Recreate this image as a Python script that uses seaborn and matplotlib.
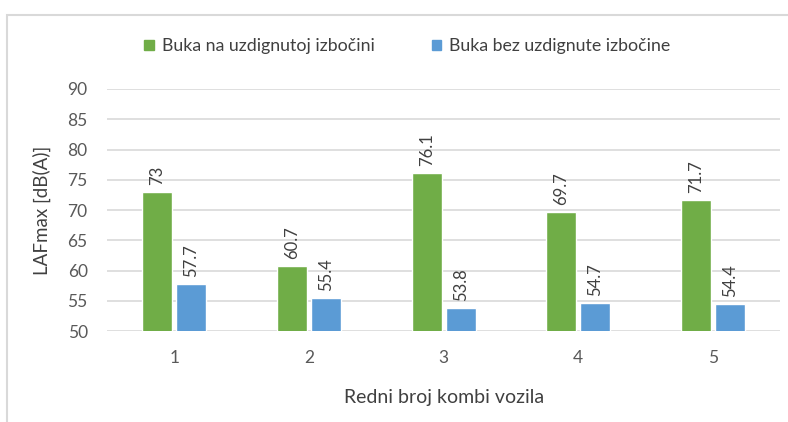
import numpy as np
import pandas as pd
import seaborn as sns
from matplotlib import pyplot as plt
from matplotlib.patches import Rectangle

# podaci
vozila = ['1', '2', '3', '4', '5']
buka_izbocina = [73, 60.7, 76.1, 69.7, 71.7]
buka_bez = [57.7, 55.4, 53.8, 54.7, 54.4]
serije = ['Buka na uzdignutoj izbočini', 'Buka bez uzdignute izbočine']
boje = ['#70AD47', '#5B9BD5']

df = pd.DataFrame({
    'vozilo': vozila * 2,
    'buka': buka_izbocina + buka_bez,
    'serija': [serije[0]] * 5 + [serije[1]] * 5,
})

sns.set_style('white')
plt.rcParams['font.family'] = ['Lato', 'DejaVu Sans']

fig = plt.figure(figsize=(7.88, 4.22), dpi=100)
ax = fig.add_axes([0.136, 0.2156, 0.854, 0.5735])

sns.barplot(data=df, x='vozilo', y='buka', hue='serija', palette=boje,
            saturation=1, width=0.505, gap=0.117, ax=ax, legend=False, zorder=3)

# natpisi vrijednosti
for cont in ax.containers:
    labels = [f'{v:g}' for v in cont.datavalues]
    ax.bar_label(cont, labels=labels, rotation=90, padding=5,
                 fontsize=12, color='#404040')

ax.set_ylim(50, 90)
ax.set_yticks(range(50, 91, 5))
ax.yaxis.grid(True, color='#D9D9D9', linewidth=1.2, zorder=0)
ax.set_axisbelow(True)
sns.despine(ax=ax, left=True, bottom=True, top=True, right=True)
ax.tick_params(axis='both', length=0, labelsize=12.5, labelcolor='#595959')
ax.tick_params(axis='y', pad=14)
ax.tick_params(axis='x', pad=14)
ax.set_xlabel('Redni broj kombi vozila', fontsize=14, color='#404040', labelpad=16)
ax.set_ylabel('LAFmax [dB(A)]', fontsize=13.5, color='#404040', labelpad=12)

# legenda
handles = [Rectangle((0, 0), 1, 1, color=c) for c in boje]
fig.legend(handles, serije, loc='center', bbox_to_anchor=(0.517, 0.89), ncol=2,
           frameon=False, fontsize=12.8, handlelength=0.55, handleheight=0.55,
           columnspacing=3.2, handletextpad=0.45, labelcolor='#404040')

# okvir grafikona
fig.patches.append(Rectangle((0.009, -0.05), 1.1, 1.014, transform=fig.transFigure,
                             fill=False, edgecolor='#D9D9D9', linewidth=1.5))

fig.savefig('out.png', dpi=100)
